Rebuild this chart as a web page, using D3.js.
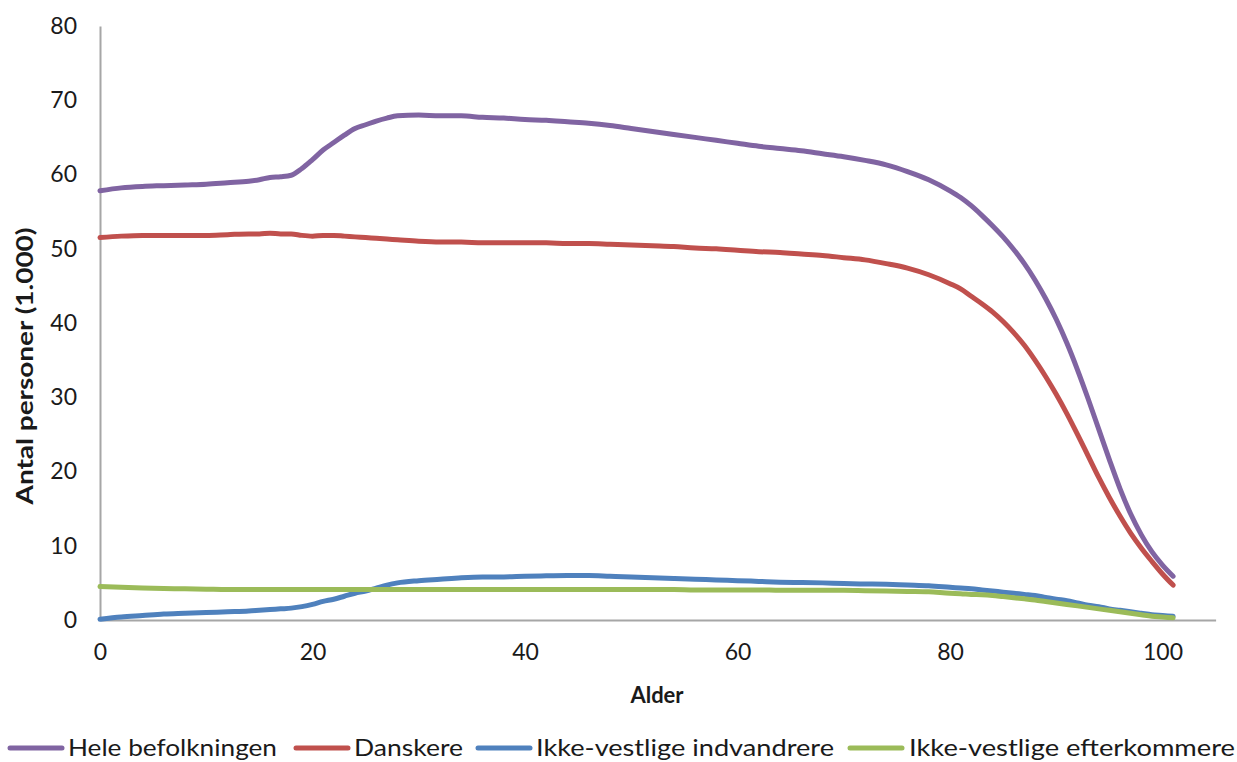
<!DOCTYPE html>
<html>
<head>
<meta charset="utf-8">
<script src="https://cdn.jsdelivr.net/npm/d3@7"></script>
<style>
  html, body { margin: 0; padding: 0; background: #fff; }
  svg { display: block; }
  text { font-family: Lato, "Open Sans", "DejaVu Sans", sans-serif; fill: #1a1a1a; }
</style>
</head>
<body>
<svg id="chart" width="1237" height="762"></svg>
<script>
const ages = [0,2,4,6,8,10,12,14,15,16,17,18,19,20,21,22,23,24,25,26,27,28,30,32,34,36,38,40,42,44,46,48,50,52,54,56,58,60,62,64,66,68,70,72,74,76,78,
  80,81,82,83,84,85,86,87,88,89,90,91,92,93,94,95,96,97,98,99,100,101];

const heleBefolkningen = [57.8,58.2,58.4,58.5,58.6,58.7,58.9,59.1,59.3,59.6,59.7,59.9,60.8,62.0,63.3,64.3,65.3,66.2,66.7,67.2,67.6,67.9,68.0,67.9,67.9,67.7,67.6,67.4,67.3,67.1,66.9,66.6,66.2,65.8,65.4,65.0,64.6,64.2,63.8,63.5,63.2,62.8,62.4,61.9,61.3,60.4,59.3,
  57.8,56.9,55.8,54.5,53.1,51.6,49.9,48.0,45.8,43.3,40.5,37.3,33.7,29.8,25.7,21.6,17.7,14.3,11.5,9.2,7.4,5.9];

const danskere = [51.5,51.7,51.8,51.8,51.8,51.8,51.9,52.0,52.0,52.1,52.0,52.0,51.8,51.7,51.8,51.8,51.7,51.6,51.5,51.4,51.3,51.2,51.0,50.9,50.9,50.8,50.8,50.8,50.8,50.7,50.7,50.6,50.5,50.4,50.3,50.1,50.0,49.8,49.6,49.5,49.3,49.1,48.8,48.5,48.0,47.4,46.5,
  45.3,44.6,43.6,42.6,41.5,40.2,38.7,37.0,35.0,32.8,30.4,27.8,25.0,22.1,19.2,16.5,14.0,11.7,9.7,7.9,6.2,4.7];

const indvandrere = [0.1,0.4,0.6,0.8,0.9,1.0,1.1,1.2,1.3,1.4,1.5,1.6,1.8,2.1,2.5,2.8,3.2,3.6,3.9,4.3,4.7,5.0,5.3,5.5,5.7,5.8,5.8,5.9,5.95,6.0,6.0,5.9,5.8,5.7,5.6,5.5,5.4,5.3,5.2,5.1,5.05,5.0,4.9,4.85,4.8,4.7,4.6,
  4.4,4.3,4.2,4.05,3.9,3.75,3.6,3.45,3.3,3.05,2.8,2.6,2.3,2.0,1.8,1.5,1.3,1.1,0.9,0.7,0.6,0.5];

const efterkommere = [4.5,4.4,4.3,4.25,4.2,4.15,4.1,4.1,4.1,4.1,4.1,4.1,4.1,4.1,4.1,4.1,4.1,4.1,4.1,4.1,4.1,4.1,4.1,4.1,4.1,4.1,4.1,4.1,4.1,4.1,4.1,4.1,4.1,4.1,4.1,4.05,4.05,4.05,4.05,4.0,4.0,4.0,4.0,3.95,3.9,3.85,3.8,
  3.6,3.55,3.45,3.4,3.3,3.15,3.0,2.85,2.7,2.5,2.3,2.1,1.9,1.7,1.5,1.3,1.1,0.9,0.7,0.5,0.4,0.3];

const seriesNames = ["Hele befolkningen","Danskere","Ikke-vestlige indvandrere","Ikke-vestlige efterkommere"];
const seriesValues = [heleBefolkningen, danskere, indvandrere, efterkommere];
const seriesColors = ["#8064A2","#C0504D","#4F81BD","#9BBB59"];

const xTicks = [0,20,40,60,80,100];
const yTicks = [0,10,20,30,40,50,60,70,80];
const xTitle = "Alder";
const yTitle = "Antal personer (1.000)";

const svg = d3.select("#chart");
const x = d3.scaleLinear().domain([0,105]).range([100,1215.6]);
const y = d3.scaleLinear().domain([0,80]).range([620,26]);

// axes
const yAxis = svg.append("g").attr("transform","translate(100,0)")
  .call(d3.axisLeft(y).tickValues(yTicks).tickSize(0).tickPadding(23).tickFormat(d3.format("d")));
const xAxis = svg.append("g").attr("transform","translate(0,620)")
  .call(d3.axisBottom(x).tickValues(xTicks).tickSize(0).tickPadding(24).tickFormat(d3.format("d")));
[yAxis, xAxis].forEach(g => {
  g.select(".domain").attr("stroke","#A6A6A6").attr("stroke-width",2);
  g.selectAll("text").style("font-family","Lato, sans-serif").style("font-size","23px").attr("fill","#1a1a1a");
});

// lines
const line = d3.line().x((d,i)=>x(ages[i])).y(d=>y(d)).curve(d3.curveMonotoneX);
seriesValues.forEach((vals,k)=>{
  svg.append("path").datum(vals).attr("d",line)
    .attr("fill","none").attr("stroke",seriesColors[k])
    .attr("stroke-width",5).attr("stroke-linecap","round").attr("stroke-linejoin","round");
});

// titles
svg.append("text").attr("x",657).attr("y",703).attr("text-anchor","middle")
  .style("font-size","22px").style("font-weight","bold").text(xTitle);
svg.append("text").attr("transform","translate(33,366) rotate(-90)").attr("text-anchor","middle")
  .style("font-size","22px").style("font-weight","bold")
  .attr("textLength",277).attr("lengthAdjust","spacingAndGlyphs").text(yTitle);

// legend
const legendItems = [
  {x0:10, x1:62, tx:68, tw:209},
  {x0:296, x1:348, tx:354, tw:109},
  {x0:478, x1:530, tx:536, tw:298},
  {x0:850, x1:902, tx:909, tw:326}
];
const lg = svg.append("g");
legendItems.forEach((it,k)=>{
  lg.append("line").attr("x1",it.x0).attr("x2",it.x1).attr("y1",748).attr("y2",748)
    .attr("stroke",seriesColors[k]).attr("stroke-width",5).attr("stroke-linecap","round");
  lg.append("text").attr("x",it.tx).attr("y",756).style("font-size","24px")
    .attr("textLength",it.tw).attr("lengthAdjust","spacingAndGlyphs").text(seriesNames[k]);
});
</script>
</body>
</html>
